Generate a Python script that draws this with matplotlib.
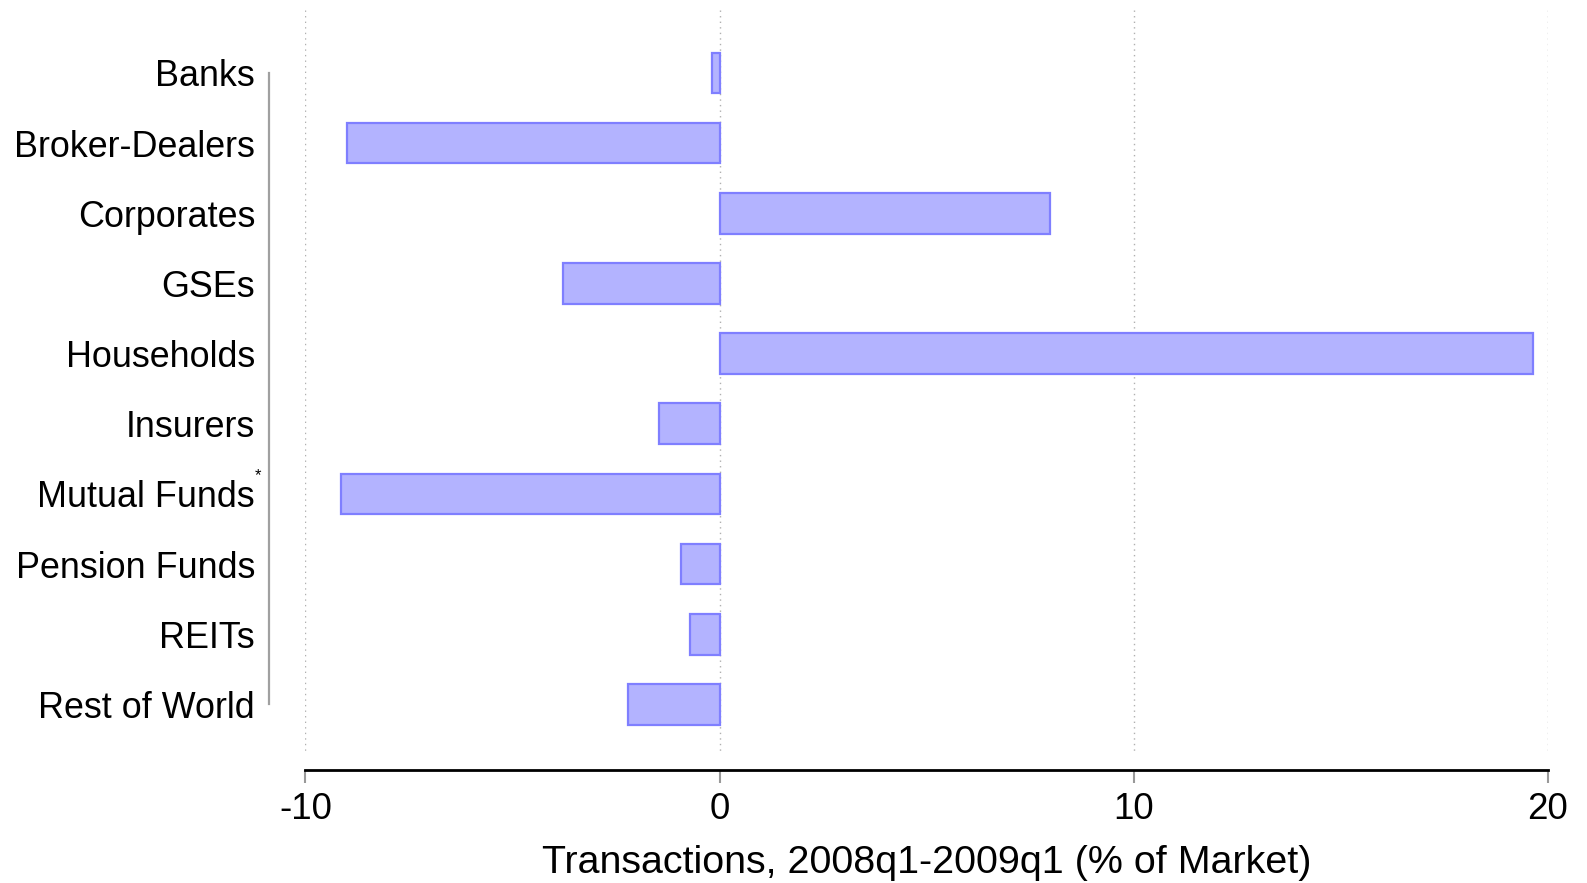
import matplotlib

matplotlib.use("Agg")

import matplotlib.pyplot as plt
import matplotlib.transforms as mtransforms

plt.rcParams["font.family"] = ["Liberation Sans", "DejaVu Sans"]

# sectors, top to bottom
sectors = [
    "Banks",
    "Broker-Dealers",
    "Corporates",
    "GSEs",
    "Households",
    "Insurers",
    "Mutual Funds",
    "Pension Funds",
    "REITs",
    "Rest of World",
]
# net transactions 2008q1-2009q1, % of market
transactions = [-0.18, -9.0, 7.97, -3.77, 19.65, -1.47, -9.14, -0.93, -0.71, -2.2]
x_ticks = [-10, 0, 10, 20]
footnoted = "Mutual Funds"

fig = plt.figure(figsize=(15.87, 8.83), dpi=100)
ax = fig.add_axes([0.1925, 0.128, 0.7828, 0.8607])

# spine placement first: set_position resets tick styling
for side in ["top", "right"]:
    ax.spines[side].set_visible(False)
ax.spines["left"].set_position(("outward", 26.3))
ax.spines["left"].set_bounds(0, len(sectors) - 1)
ax.spines["left"].set_color("#a0a0a0")
ax.spines["left"].set_linewidth(1.6)
ax.spines["bottom"].set_linewidth(2)
ax.spines["bottom"].set_color("black")

positions = list(range(len(sectors)))
ax.barh(
    positions,
    transactions,
    height=0.58,
    color="#b3b3ff",
    edgecolor="#7f7fff",
    linewidth=1.6,
    zorder=3,
)

ax.set_xlim(x_ticks[0], x_ticks[-1])
ax.set_ylim(9.935, -0.896)

# dotted vertical grid that stops short of the x axis
ax.vlines(x_ticks, -0.896, 9.707, colors="#b0b0b0", linestyles=(0, (1, 3)), linewidth=1.0, zorder=1)

ax.set_yticks(positions)
ax.set_yticklabels(sectors, fontsize=25.8)
ax.tick_params(axis="y", length=0, pad=10)

ax.set_xticks(x_ticks)
ax.set_xticklabels([str(t) for t in x_ticks], fontsize=26.5)
ax.tick_params(axis="x", length=9.5, width=1.5, color="#999999", pad=6)
ax.set_xlabel("Transactions, 2008q1-2009q1 (% of Market)", fontsize=28.4, labelpad=13)

# asterisk next to the footnoted label
trans = mtransforms.blended_transform_factory(ax.transAxes, ax.transData)
ax.annotate(
    "*",
    xy=(0, sectors.index(footnoted)),
    xycoords=trans,
    xytext=(-34, 13),
    textcoords="offset points",
    fontsize=12,
    ha="center",
    va="center",
)

fig.savefig("out.png", dpi=100)
